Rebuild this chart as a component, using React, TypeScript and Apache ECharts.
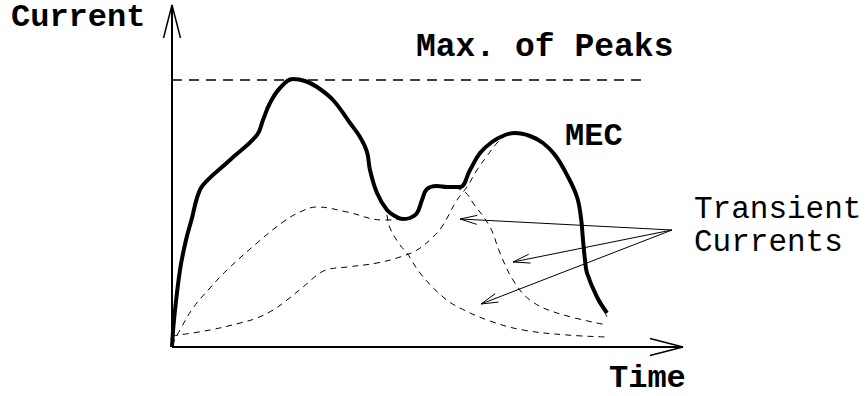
import React, { useEffect, useRef } from "react";
import * as echarts from "echarts";

// Coordinates are in "pixel-like" units: x = time, y = current (origin at axes corner)
const mecX = [0, 2, 8, 14, 20, 25, 31, 58, 85, 91, 98, 108, 121, 133, 145, 161, 178, 188, 195, 198, 205, 215, 223, 231, 238, 245, 250, 255, 265, 275, 288, 298, 308, 320, 333, 343, 358, 371, 383, 395, 405, 409, 411, 413, 415, 425, 435];
const mecY = [0, 27, 77, 107, 129, 149, 162, 187, 212, 227, 244, 259, 268, 266, 260, 247, 224, 210, 195, 177, 154, 137, 131, 128, 129, 134, 147, 158, 161, 160, 160, 177, 194, 205, 212, 214, 211, 204, 192, 172, 150, 129, 107, 87, 74, 50, 34];

const t1X = [0, 2, 8, 14, 20, 25, 31, 58, 85, 91, 98, 108, 121, 133, 145, 161, 178, 188, 195, 198, 205, 213, 218, 228, 235, 248, 271, 288, 318, 351, 395, 435];
const t1Y = [0, 27, 77, 107, 129, 149, 162, 187, 212, 227, 244, 259, 268, 266, 260, 247, 224, 210, 195, 177, 154, 139, 119, 102, 94, 74, 50, 39, 26, 17, 12, 10];

const t2X = [0, 8, 21, 38, 55, 85, 111, 128, 145, 175, 211, 231, 244, 254, 264, 283, 293, 301, 318, 328, 341, 358, 385, 435];
const t2Y = [2, 17, 39, 59, 77, 104, 125, 135, 140, 135, 127, 128, 134, 157, 161, 159, 155, 144, 120, 94, 67, 47, 34, 22];

const t3X = [0, 38, 68, 85, 101, 115, 131, 148, 158, 175, 205, 228, 245, 261, 271, 285, 295, 305, 315, 325, 333, 343, 358, 371, 383, 395, 405, 409, 411, 413, 415, 420, 428, 435];
const t3Y = [11, 17, 24, 29, 37, 47, 60, 74, 78, 80, 84, 90, 97, 110, 122, 147, 160, 177, 191, 204, 211, 214, 211, 204, 192, 172, 150, 129, 107, 87, 74, 59, 45, 30];

const maxPeakLevel = 267;
const maxPeakEnd = 474;

const xAxisEnd = 511;
const yAxisEnd = 342;

const arrowFrom = [500, 117];
const arrowTips = [
  [288, 128],
  [341, 85],
  [309, 43],
];

const zip = (xs: number[], ys: number[]) => xs.map((x, i) => [x, ys[i]]);

function head(tip: number[], from: number[], len: number, half: number) {
  const dx = from[0] - tip[0];
  const dy = from[1] - tip[1];
  const d = Math.hypot(dx, dy);
  const ux = dx / d, uy = dy / d;
  const nx = -uy, ny = ux;
  return [
    [tip[0] + ux * len + nx * half, tip[1] + uy * len + ny * half],
    tip,
    [tip[0] + ux * len - nx * half, tip[1] + uy * len - ny * half],
  ];
}

const FONT = "'Liberation Mono', 'Courier New', monospace";

export default function App() {
  const ref = useRef<HTMLDivElement>(null);
  useEffect(() => {
    if (!ref.current) return;
    const chart = echarts.init(ref.current, null, { renderer: "svg" });
    const black = "#000";
    const plain = (data: number[][], width: number, type: any = "solid", smooth: any = false) => ({
      type: "line",
      data,
      smooth,
      symbol: "none",
      silent: true,
      clip: false,
      lineStyle: { color: black, width, type },
    });
    const series: any[] = [
      // axes
      plain([[0, 0], [0, yAxisEnd]], 2),
      plain(head([0, yAxisEnd], [0, 0], 33, 8.5), 1.5),
      plain([[0, 0], [xAxisEnd, 0]], 2),
      plain(head([xAxisEnd, 0], [0, 0], 33, 8.5), 1.5),
      // max of peaks
      plain([[0, maxPeakLevel], [maxPeakEnd, maxPeakLevel]], 1.5, [10, 7]),
      // transients
      plain(zip(t1X, t1Y), 1, [6, 5], 0.4),
      plain(zip(t2X, t2Y), 1, [6, 5], 0.4),
      plain(zip(t3X, t3Y), 1, [6, 5], 0.4),
      // MEC
      plain(zip(mecX, mecY), 4, "solid", 0.4),
    ];
    arrowTips.forEach((tip) => {
      series.push(plain([arrowFrom, tip], 1));
      series.push(plain(head(tip, arrowFrom, 17, 4.5), 1));
    });
    chart.setOption({
      animation: false,
      grid: { left: 152, top: 0, right: 0, bottom: 29 },
      xAxis: { type: "value", min: -20, max: 696, show: false },
      yAxis: { type: "value", min: -20, max: 347, show: false },
      series,
      graphic: [
        { type: "text", left: 11, top: 1, style: { text: "Current", font: `bold 32px ${FONT}`, fill: black } },
        { type: "text", left: 416, top: 31, style: { text: "Max. of Peaks", font: `bold 33px ${FONT}`, fill: black } },
        { type: "text", left: 565, top: 120, style: { text: "MEC", font: `bold 32px ${FONT}`, fill: black } },
        { type: "text", left: 609, top: 362, style: { text: "Time", font: `bold 32px ${FONT}`, fill: black } },
        { type: "text", left: 694, top: 194, style: { text: "Transient", font: `31px ${FONT}`, fill: black } },
        { type: "text", left: 694, top: 227, style: { text: "Currents", font: `31px ${FONT}`, fill: black } },
      ],
    });
    return () => chart.dispose();
  }, []);
  return <div ref={ref} style={{ width: 868, height: 396, position: "absolute", left: 0, top: 0 }} />;
}
